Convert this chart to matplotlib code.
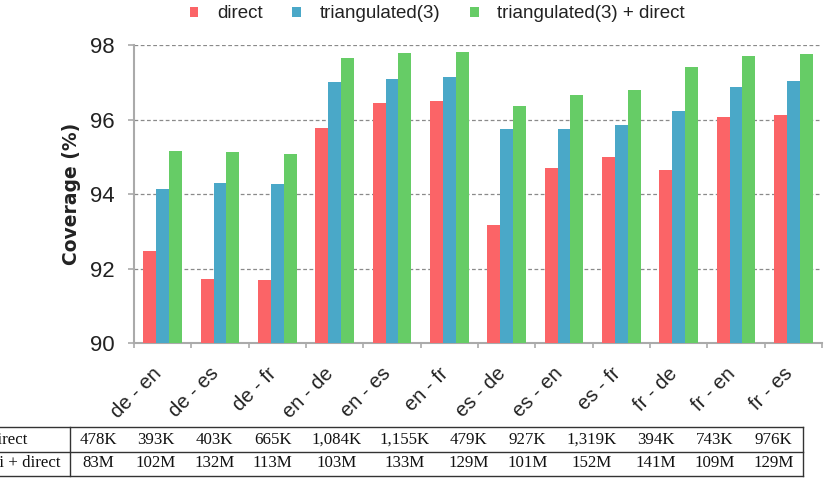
import matplotlib
matplotlib.use("Agg")
import matplotlib.pyplot as plt
import matplotlib.transforms as mtransforms
import numpy as np
from matplotlib.lines import Line2D

# DATA
pairs = ["de - en", "de - es", "de - fr", "en - de", "en - es", "en - fr",
         "es - de", "es - en", "es - fr", "fr - de", "fr - en", "fr - es"]
direct = [92.47, 91.72, 91.70, 95.79, 96.44, 96.50, 93.17, 94.69, 95.01, 94.66, 96.08, 96.12]
triang = [94.13, 94.30, 94.28, 97.01, 97.09, 97.15, 95.76, 95.76, 95.86, 96.24, 96.89, 97.05]
triang_direct = [95.17, 95.14, 95.08, 97.66, 97.79, 97.83, 96.37, 96.66, 96.79, 97.41, 97.70, 97.76]
series_names = ["direct", "triangulated(3)", "triangulated(3) + direct"]
row_labels = ["direct", "tri + direct"]
row_direct = ["478K", "393K", "403K", "665K", "1,084K", "1,155K", "479K", "927K",
              "1,319K", "394K", "743K", "976K"]
row_tri = ["83M", "102M", "132M", "113M", "103M", "133M", "129M", "101M",
           "152M", "141M", "109M", "129M"]

colors = ["#fb6467", "#4aa8c8", "#66cc66"]
plt.rcParams["font.family"] = "Liberation Sans"

W, H = 833, 478
fig = plt.figure(figsize=(W / 100, H / 100), dpi=100)
ax = fig.add_axes([134 / W, 1 - 343 / H, 688 / W, 297.7 / H])

x = np.arange(len(pairs))
bw = 0.224
for i, (vals, name) in enumerate(zip([direct, triang, triang_direct], series_names)):
    ax.bar(x + (i - 1) * bw, vals, bw, color=colors[i], label=name, zorder=3)

ax.set_xlim(-0.5, len(pairs) - 0.5)
ax.set_ylim(90, 98)
ax.set_yticks([90, 92, 94, 96, 98])
ax.yaxis.grid(True, linestyle=(0, (3, 2)), color="#8a8a8a", linewidth=0.9, zorder=0)
for s in ["top", "right"]:
    ax.spines[s].set_visible(False)
for s in ["left", "bottom"]:
    ax.spines[s].set_color("#aaaaaa")
    ax.spines[s].set_linewidth(1.5)

ax.set_xticks(x)
ax.set_xticks(np.arange(len(pairs) + 1) - 0.5, minor=True)
ax.tick_params(axis="x", which="major", length=0, pad=20)
ax.tick_params(axis="x", which="minor", length=3.6, color="#aaaaaa", width=1.2)
ax.tick_params(axis="y", length=4.3, color="#aaaaaa", width=1.2, labelsize=16, pad=10,
               labelcolor="#222222")
ax.set_xticklabels(pairs, rotation=45, ha="right", va="center", rotation_mode="anchor",
                   fontsize=14.5, color="#222222")
shift = mtransforms.ScaledTranslation(-0.04, 0, fig.dpi_scale_trans)
for lab in ax.get_xticklabels():
    lab.set_transform(lab.get_transform() + shift)
ax.set_ylabel("Coverage (%)", fontsize=13.5, fontweight="bold", color="#222222",
              family="DejaVu Sans")
ax.yaxis.set_label_coords(-0.077, 0.5)

leg = fig.legend(loc="center", bbox_to_anchor=(0.525, 1 - 14 / H), ncol=3, frameon=False,
                 fontsize=13.5, handlelength=0.45, handleheight=0.45, handletextpad=1.0,
                 columnspacing=1.6)
for t in leg.get_texts():
    t.set_color("#222222")

# TABLE BELOW
tfont = dict(family="Liberation Serif", fontsize=12.2, color="#111111")
row_y = [440, 463]
for lab, yy in zip(row_labels, row_y):
    fig.text(-11 / W, 1 - yy / H, lab, ha="left", va="center", **tfont)

fig.canvas.draw()
renderer = fig.canvas.get_renderer()
pad = 9.25
left = 70
for a, b in zip(row_direct, row_tri):
    ta = fig.text(0, 1 - row_y[0] / H, a, ha="center", va="center", **tfont)
    tb = fig.text(0, 1 - row_y[1] / H, b, ha="center", va="center", **tfont)
    wmax = max(ta.get_window_extent(renderer).width, tb.get_window_extent(renderer).width)
    cw = wmax + 2 * pad
    cx = left + cw / 2
    ta.set_x(cx / W)
    tb.set_x(cx / W)
    left += cw
right = left

lc = "#333333"
for yy in [427, 452, 476]:
    fig.add_artist(Line2D([0, right / W], [1 - yy / H] * 2, color=lc, linewidth=1))
for xx in [70, right]:
    fig.add_artist(Line2D([xx / W] * 2, [1 - 427 / H, 1 - 476 / H], color=lc, linewidth=1))

fig.savefig("out.png", dpi=100)
